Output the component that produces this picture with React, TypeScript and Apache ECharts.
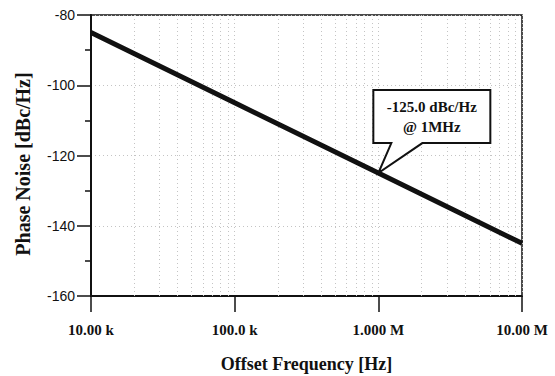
import React, { useEffect, useRef } from "react";
import * as echarts from "echarts";

const freqHz = [1e4, 1e5, 1e6, 1e7];
const phaseNoise = [-85, -105, -125, -145];
const majorDecades = [1e4, 1e5, 1e6];
const minorMultipliers = [2, 3, 4, 5, 6, 7, 8, 9];
const xTickLabels: Record<string, string> = {
  "10000": "10.00 k",
  "100000": "100.0 k",
  "1000000": "1.000 M",
  "10000000": "10.00 M",
};
const markerFreq = 1e6;
const markerValue = -125;
const calloutLines = ["-125.0 dBc/Hz", "@ 1MHz"];
const yTitle = "Phase Noise [dBc/Hz]";
const xTitle = "Offset Frequency [Hz]";

const SERIF = "'Liberation Serif', 'DejaVu Serif', serif";
const SANS = "'Liberation Sans', Arial, sans-serif";

export default function App() {
  const ref = useRef<HTMLDivElement>(null);
  useEffect(() => {
    if (!ref.current) return;
    const chart = echarts.init(ref.current, undefined, { renderer: "svg" });
    const minorGrid: { xAxis: number }[] = [];
    majorDecades.forEach((d) => minorMultipliers.forEach((m) => minorGrid.push({ xAxis: d * m })));
    chart.setOption({
      animation: false,
      backgroundColor: "#fff",
      grid: {
        left: 91,
        right: 33,
        top: 15,
        bottom: 80,
        containLabel: false,
        outerBoundsMode: "none",
        show: true,
        borderColor: "#111",
        borderWidth: 1.5,
      },
      xAxis: {
        type: "log",
        logBase: 10,
        min: 1e4,
        max: 1e7,
        name: xTitle,
        nameLocation: "middle",
        nameGap: 59,
        nameTextStyle: { fontFamily: SERIF, fontWeight: "bold", fontSize: 18, color: "#111" },
        axisLine: { onZero: false, lineStyle: { color: "#111", width: 2 } },
        axisTick: { show: true, length: 16, inside: false, lineStyle: { color: "#111", width: 1.5 } },
        minorTick: { show: false },
        axisLabel: {
          margin: 26,
          fontFamily: SERIF,
          fontWeight: "bold",
          fontSize: 15,
          color: "#111",
          formatter: (v: number) => xTickLabels[String(Math.round(v))] ?? "",
        },
        splitLine: { show: true, lineStyle: { color: "#c4c4c4", type: [1, 3], width: 1 } },
      },
      yAxis: {
        type: "value",
        min: -160,
        max: -80,
        interval: 20,
        axisLine: { show: true, lineStyle: { color: "#111", width: 2 } },
        axisTick: { show: true, length: 14, lineStyle: { color: "#111", width: 1.5 } },
        minorTick: { show: true, splitNumber: 2, length: 6, lineStyle: { color: "#111", width: 1.5 } },
        axisLabel: { margin: 16, fontFamily: SANS, fontSize: 14, color: "#111" },
        splitLine: { show: true, lineStyle: { color: "#c4c4c4", type: [1, 3], width: 1 } },
      },
      series: [
        {
          type: "line",
          data: freqHz.map((f, i) => [f, phaseNoise[i]]),
          showSymbol: false,
          lineStyle: { color: "#111", width: 5 },
          z: 5,
          markLine: {
            silent: true,
            symbol: "none",
            label: { show: false },
            lineStyle: { color: "#c4c4c4", type: [1, 3], width: 1 },
            data: minorGrid,
            z: 1,
          },
        },
      ],
    });

    const tip = chart.convertToPixel({ xAxisIndex: 0, yAxisIndex: 0 }, [markerFreq, markerValue]) as number[];
    const [tx, ty] = tip;
    const left = tx - 5;
    const right = tx + 112;
    const top = ty - 83;
    const bottom = ty - 30;
    chart.setOption({
      graphic: [
        {
          type: "text",
          x: 23,
          y: 164,
          rotation: Math.PI / 2,
          style: {
            text: yTitle,
            fontFamily: SERIF,
            fontWeight: "bold",
            fontSize: 20,
            fill: "#111",
            align: "center",
            verticalAlign: "middle",
          },
        },
        {
          type: "polygon",
          z: 20,
          shape: {
            points: [
              [left, top],
              [right, top],
              [right, bottom],
              [tx + 44, bottom],
              [tx, ty],
              [tx + 13, bottom],
              [left, bottom],
            ],
          },
          style: { fill: "#fff", stroke: "#111", lineWidth: 2 },
        },
        {
          type: "text",
          z: 21,
          x: (left + right) / 2,
          y: (top + bottom) / 2,
          style: {
            text: calloutLines.join("\n"),
            fontFamily: SERIF,
            fontWeight: "bold",
            fontSize: 15,
            lineHeight: 20,
            fill: "#111",
            align: "center",
            verticalAlign: "middle",
          },
        },
      ],
    });
    return () => chart.dispose();
  }, []);
  return <div ref={ref} style={{ width: 555, height: 376, position: "absolute", left: 0, top: 0 }} />;
}
